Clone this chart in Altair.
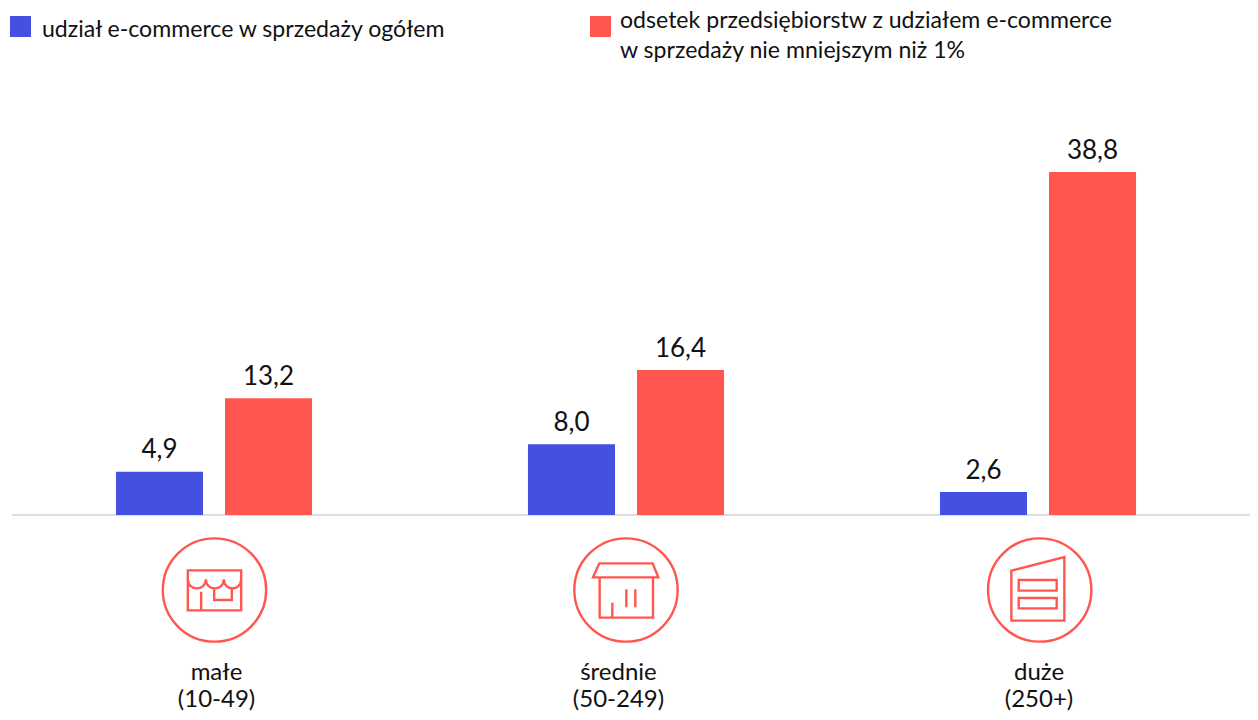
import altair as alt
import pandas as pd

categories = ["małe", "średnie", "duże"]
ranges = ["(10-49)", "(50-249)", "(250+)"]
series = ["udział e-commerce w sprzedaży ogółem",
          "odsetek przedsiębiorstw z udziałem e-commerce\nw sprzedaży nie mniejszym niż 1%"]
share_values = [4.9, 8.0, 2.6]
firm_values = [13.2, 16.4, 38.8]
BLUE, RED = "#4350E0", "#FF5750"
FONT = "Lato"

rows = []
for c, a, b in zip(categories, share_values, firm_values):
    rows.append({"cat": c, "series": series[0], "value": a, "label": f"{a:.1f}".replace(".", ",")})
    rows.append({"cat": c, "series": series[1], "value": b, "label": f"{b:.1f}".replace(".", ",")})
df = pd.DataFrame(rows)

x_scale = alt.Scale(domain=categories, range=[0, 1236], paddingInner=0, paddingOuter=0)
x = alt.X("cat:N", scale=x_scale, axis=None)
y_scale = alt.Scale(domain=[0, 507 / 8.84], range=[507, 0], nice=False, zero=True)
y = alt.Y("value:Q", scale=y_scale, axis=None)
off = alt.XOffset("series:N", scale=alt.Scale(domain=series, paddingInner=0.2018, paddingOuter=0.99))
col = alt.Color("series:N", scale=alt.Scale(domain=series, range=[BLUE, RED]), legend=None)

bars = alt.Chart(df).mark_bar().encode(x=x, xOffset=off, y=y, color=col)
vals = alt.Chart(df).mark_text(font=FONT, fontSize=26, color="#111111", baseline="bottom", dy=-8.5).encode(
    x=x, xOffset=off, y=y, text="label:N")
base = alt.Chart(pd.DataFrame({"v": [0]})).mark_rule(color="#BEBEBE", strokeWidth=1).encode(
    x=alt.value(4), x2=alt.value(1242), y=alt.Y("v:Q", scale=y_scale, axis=None))

U = 155.0
def P(cmds, cx, cy):
    out = []
    for c in cmds:
        if isinstance(c, str):
            out.append(c)
        else:
            out.append(f"{(c[0]-cx)/U:.4f},{(c[1]-cy)/U:.4f}")
    return " ".join(out)

CIRCLE = "M-1,0 A1,1 0 1,1 1,0 A1,1 0 1,1 -1,0 Z "
icon1 = CIRCLE + P(["M", (173,151), "L", (333,151), "L", (333,271), "L", (173,271), "Z",
                    "M", (173,178), "C", (173,214), (227,214), (227,178),
                    "C", (227,214), (281,214), (281,178),
                    "C", (281,214), (333,214), (333,178),
                    "M", (213,215), "L", (213,271),
                    "M", (252,205), "L", (252,240), "L", (305,240), "L", (305,205)], 253, 210)
icon2 = CIRCLE + P(["M", (177,130), "L", (337,130), "L", (354,172), "L", (158,172), "Z",
                    "M", (178,172), "L", (178,293), "L", (338,293), "L", (338,172),
                    "M", (216,248), "L", (216,293),
                    "M", (258,208), "L", (258,262),
                    "M", (285,208), "L", (285,262)], 257, 210)
icon3 = CIRCLE + P(["M", (154,152), "L", (313,111), "L", (313,302), "L", (154,302), "Z",
                    "M", (176,180), "L", (290,180), "L", (290,212), "L", (176,212), "Z",
                    "M", (176,234), "L", (290,234), "L", (290,265), "L", (176,265), "Z"], 239, 210)

layers = [base, bars, vals]
for cat, rng, path, ioff, toff in zip(categories, ranges, [icon1, icon2, icon3], [0.5, 0, 1.7], [2.5, -7.5, 1]):
    one = pd.DataFrame({"cat": [cat], "lab": [cat + "\n" + rng]})
    layers.append(alt.Chart(one).mark_point(shape=path, filled=False, stroke=RED, strokeWidth=2.4,
                                            size=(2 * U / 3) ** 2, opacity=1, xOffset=ioff).encode(
        x=x, y=alt.value(582)))
    layers.append(alt.Chart(one).mark_text(font=FONT, fontSize=24, color="#111111", lineBreak="\n", lineHeight=27,
                                           baseline="alphabetic", xOffset=toff).encode(
        x=x, y=alt.value(671.5), text="lab:N"))

for name, colr, sx, sy, tx, ty in [(series[0], BLUE, 12.5, 18.5, 34, 29), (series[1], RED, 592.5, 18.5, 612, 20)]:
    one = pd.DataFrame({"name": [name]})
    layers.append(alt.Chart(one).mark_square(color=colr, size=441, opacity=1).encode(
        x=alt.value(sx), y=alt.value(sy)))
    layers.append(alt.Chart(one).mark_text(font=FONT, fontSize=23.1, color="#111111", align="left", lineBreak="\n",
                                           lineHeight=30, baseline="alphabetic").encode(
        x=alt.value(tx), y=alt.value(ty), text="name:N"))

chart = alt.layer(*layers).properties(width=1242, height=704, padding=0,
                                      autosize=alt.AutoSizeParams(type="none")).configure_view(stroke=None)
chart.save("out.html", embed_options={"renderer": "svg", "actions": False})
